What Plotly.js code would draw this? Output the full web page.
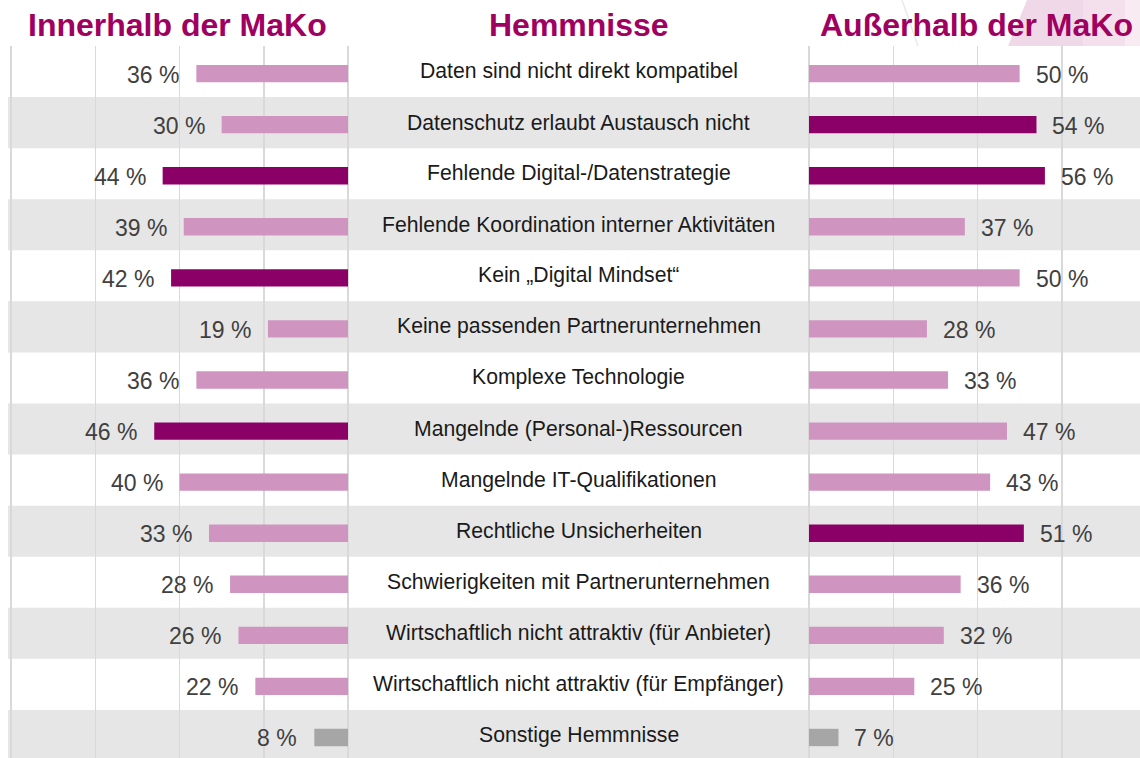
<!DOCTYPE html>
<html><head><meta charset="utf-8">
<script src="https://cdn.plot.ly/plotly-3.0.1.min.js"></script>
<style>html,body{margin:0;padding:0;background:#fff}#chart{width:1140px;height:758px}</style>
</head><body><div id="chart"></div>
<script>
const categories = [
  "Daten sind nicht direkt kompatibel",
  "Datenschutz erlaubt Austausch nicht",
  "Fehlende Digital-/Datenstrategie",
  "Fehlende Koordination interner Aktivitäten",
  "Kein „Digital Mindset“",
  "Keine passenden Partnerunternehmen",
  "Komplexe Technologie",
  "Mangelnde (Personal-)Ressourcen",
  "Mangelnde IT-Qualifikationen",
  "Rechtliche Unsicherheiten",
  "Schwierigkeiten mit Partnerunternehmen",
  "Wirtschaftlich nicht attraktiv (für Anbieter)",
  "Wirtschaftlich nicht attraktiv (für Empfänger)",
  "Sonstige Hemmnisse"
];
const innerhalb = [36, 30, 44, 39, 42, 19, 36, 46, 40, 33, 28, 26, 22, 8];
const ausserhalb = [50, 54, 56, 37, 50, 28, 33, 47, 43, 51, 36, 32, 25, 7];
// style class per bar: 0 = normal, 1 = highlighted (top 3), 2 = other
const innerhalbClass = [0, 0, 1, 0, 1, 0, 0, 1, 0, 0, 0, 0, 0, 2];
const ausserhalbClass = [0, 1, 1, 0, 0, 0, 0, 0, 0, 1, 0, 0, 0, 2];
const titles = ["Innerhalb der MaKo", "Hemmnisse", "Außerhalb der MaKo"];

const palette = ["#cf95c0", "#8b0066", "#a6a6a6"];
const W = 1140, H = 758, T = 46;
const px = v => v / W;
const scale = 4.2125; // pixels per percent
const rowH = 51.07;
const yBottom = -0.5 + (H - T) / rowH;
const topY = 1 + T / (H - T);

const traces = [
  {type: "bar", orientation: "h", y: categories, x: innerhalb, xaxis: "x", yaxis: "y",
   marker: {color: innerhalbClass.map(c => palette[c])}, width: 0.34, offset: -0.13, hoverinfo: "skip"},
  {type: "bar", orientation: "h", y: categories, x: ausserhalb, xaxis: "x2", yaxis: "y",
   marker: {color: ausserhalbClass.map(c => palette[c])}, width: 0.34, offset: -0.13, hoverinfo: "skip"}
];

const shapes = [];
categories.forEach((c, i) => {
  if (i % 2 === 1) {
    shapes.push({type: "rect", layer: "below", xref: "paper", yref: "y",
      x0: px(8), x1: 1, y0: i - 0.5, y1: i + 0.5, fillcolor: "#e6e6e6", line: {width: 0}});
  }
});
// decorative pink corner (purely ornamental)
shapes.push(
  {type: "path", layer: "below", xref: "paper", yref: "paper",
   path: "M " + px(1008) + " 1.0 L " + px(1027) + " " + topY + " L 1 " + topY + " L 1 1 Z",
   fillcolor: "#efd9e8", line: {width: 0}},
  {type: "rect", layer: "below", xref: "paper", yref: "paper",
   x0: px(1083), x1: px(1125), y0: 1, y1: topY, fillcolor: "#f3e0ec", line: {width: 0}},
  {type: "rect", layer: "below", xref: "paper", yref: "paper",
   x0: px(1125), x1: 1, y0: 1, y1: topY, fillcolor: "#f8ebf2", line: {width: 0}},
  {type: "line", layer: "below", xref: "paper", yref: "paper",
   x0: px(902), x1: px(918), y0: topY, y1: 1, line: {color: "#e6eaf0", width: 1.5}}
);

const valFont = {family: "Liberation Sans, Arial", size: 23, color: "#404040"};
const annotations = [];
innerhalb.forEach((v, i) => annotations.push({x: v, y: categories[i], xref: "x", yref: "y",
  text: v + " %", showarrow: false, xanchor: "right", xshift: -15, yshift: -3, font: valFont}));
ausserhalb.forEach((v, i) => annotations.push({x: v, y: categories[i], xref: "x2", yref: "y",
  text: v + " %", showarrow: false, xanchor: "left", xshift: 14, yshift: -3, font: valFont}));
categories.forEach((c, i) => annotations.push({x: px(578.5), y: c, xref: "paper", yref: "y",
  text: c, showarrow: false, xanchor: "center", yshift: 0.5,
  font: {family: "Liberation Sans, Arial", size: 21.2, color: "#1a1a1a"}}));
const tfont = {family: "Liberation Sans, Arial", size: 32, color: "#a0005f", weight: 700};
annotations.push({x: px(26), y: 1, xref: "paper", yref: "paper", yanchor: "bottom", yshift: 1,
  text: "<b>" + titles[0] + "</b>", showarrow: false, xanchor: "left", font: tfont});
annotations.push({x: px(578.5), y: 1, xref: "paper", yref: "paper", yanchor: "bottom", yshift: 1,
  text: "<b>" + titles[1] + "</b>", showarrow: false, xanchor: "center", font: tfont});
annotations.push({x: px(1135), y: 1, xref: "paper", yref: "paper", yanchor: "bottom", yshift: 1,
  text: "<b>" + titles[2] + "</b>", showarrow: false, xanchor: "right", font: tfont});

const axCommon = {dtick: 20, tick0: 0, autorange: false,
  showgrid: true, gridcolor: "#d9d9d9", gridwidth: 1.5, zeroline: true, zerolinecolor: "#d9d9d9", zerolinewidth: 1.5,
  showticklabels: false, ticks: "", showline: false, fixedrange: true};

const layout = {
  width: W, height: H,
  margin: {l: 0, r: 0, t: T, b: 0, pad: 0},
  paper_bgcolor: "#ffffff", plot_bgcolor: "rgba(0,0,0,0)",
  showlegend: false, barmode: "overlay",
  xaxis: Object.assign({domain: [px(5), px(348)], range: [(348 - 5) / scale, 0]}, axCommon),
  xaxis2: Object.assign({domain: [px(809), 1], range: [0, (W - 809) / scale], anchor: "y"}, axCommon),
  yaxis: {type: "category", categoryorder: "array", categoryarray: categories,
    range: [yBottom, -0.5], autorange: false, showticklabels: false, showgrid: false,
    zeroline: false, ticks: "", showline: false, fixedrange: true},
  shapes: shapes,
  annotations: annotations
};
Plotly.newPlot("chart", traces, layout, {displayModeBar: false, staticPlot: true});
</script></body></html>
